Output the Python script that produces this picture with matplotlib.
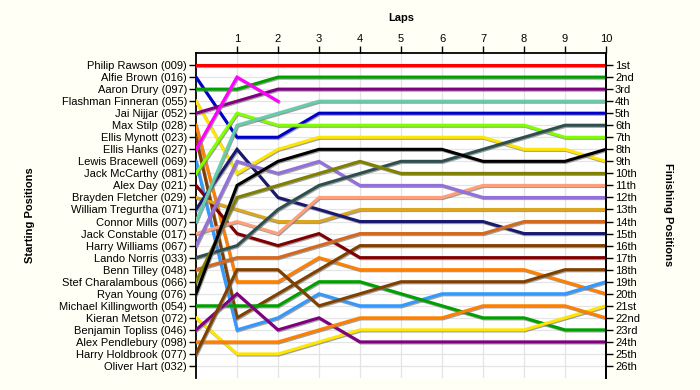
import matplotlib
matplotlib.use("Agg")
import matplotlib.pyplot as plt
import matplotlib.patheffects as pe

plt.rcParams['font.family'] = ['Liberation Sans', 'DejaVu Sans']

# starting grid, top to bottom
starters = ["Philip Rawson (009)", "Alfie Brown (016)", "Aaron Drury (097)",
            "Flashman Finneran (055)", "Jai Nijjar (052)", "Max Stilp (028)",
            "Ellis Mynott (023)", "Ellis Hanks (027)", "Lewis Bracewell (069)",
            "Jack McCarthy (081)", "Alex Day (021)", "Brayden Fletcher (029)",
            "William Tregurtha (071)", "Connor Mills (007)", "Jack Constable (017)",
            "Harry Williams (067)", "Lando Norris (033)", "Benn Tilley (048)",
            "Stef Charalambous (066)", "Ryan Young (076)", "Michael Killingworth (054)",
            "Kieran Metson (072)", "Benjamin Topliss (046)", "Alex Pendlebury (098)",
            "Harry Holdbrook (077)", "Oliver Hart (032)"]

# position at lap 0..10 for each starter (same order as above)
lap_positions = [
    [1, 1, 1, 1, 1, 1, 1, 1, 1, 1, 1],
    [2, 7, 7, 5, 5, 5, 5, 5, 5, 5, 5],
    [3, 3, 2, 2, 2, 2, 2, 2, 2, 2, 2],
    [4, 10, 8, 7, 7, 7, 7, 7, 8, 8, 9],
    [5, 4, 3, 3, 3, 3, 3, 3, 3, 3, 3],
    [6, 19, 19, 17, 18, 18, 18, 18, 18, 19, 20],
    [7, 22, 20, 18, 16, 16, 16, 16, 16, 16, 16],
    [8, 2, 4],
    [9, 23, 22, 20, 21, 21, 20, 20, 20, 20, 19],
    [10, 5, 6, 6, 6, 6, 6, 6, 6, 7, 7],
    [11, 15, 16, 15, 17, 17, 17, 17, 17, 17, 17],
    [12, 13, 14, 14, 13, 13, 13, 13, 13, 13, 13],
    [13, 8, 12, 13, 14, 14, 14, 14, 15, 15, 15],
    [14, 6, 5, 4, 4, 4, 4, 4, 4, 4, 4],
    [15, 14, 15, 12, 12, 12, 12, 11, 11, 11, 11],
    [16, 9, 10, 9, 11, 11, 11, 12, 12, 12, 12],
    [17, 16, 13, 11, 10, 9, 9, 8, 7, 6, 6],
    [18, 17, 17, 16, 15, 15, 15, 15, 14, 14, 14],
    [19, 12, 11, 10, 9, 10, 10, 10, 10, 10, 10],
    [20, 11, 9, 8, 8, 8, 8, 9, 9, 9, 8],
    [21, 21, 21, 19, 19, 20, 21, 22, 22, 23, 23],
    [22, 25, 25, 24, 23, 23, 23, 23, 23, 22, 21],
    [23, 20, 23, 22, 24, 24, 24, 24, 24, 24, 24],
    [24, 24, 24, 23, 22, 22, 22, 21, 21, 21, 22],
    [25, 18, 18, 21, 20, 19, 19, 19, 19, 18, 18],
    [],
]

finish_labels = ["1st", "2nd", "3rd"] + [f"{i}th" for i in range(4, 21)] + \
                ["21st", "22nd", "23rd", "24th", "25th", "26th"]

colors = ["#ff0000", "#0000cd", "#00a000", "#ffe600", "#800080", "#ff8000",
          "#804000", "#ff00ff", "#3399ff", "#80ff00", "#800000", "#daa520",
          "#191970", "#66cdaa", "#ffa07a", "#9370db", "#2f4f4f", "#d2691e",
          "#808000", "#000000", "#00a000", "#ffe600", "#800080", "#ff8000",
          "#804000", "#888888"]

fig = plt.figure(figsize=(7, 3.9), dpi=100, facecolor="#fffff6")
ax = fig.add_axes([196/700, 1 - 378/390, 410/700, 325/390])
ax.set_facecolor("white")

shadow = [pe.SimpleLineShadow(offset=(0.6, -0.8), shadow_color="#777777", alpha=0.7),
          pe.Normal()]
for pos, c in zip(lap_positions, colors):
    if not pos:
        continue
    ax.plot(range(len(pos)), pos, color=c, lw=2.2, solid_joinstyle="miter",
            path_effects=shadow, zorder=3)

ax.set_xlim(0, 10)
ax.set_ylim(27, 0)
ax.set_xticks(range(1, 11))
ax.xaxis.tick_top()
ax.set_yticks(range(1, 27))
ax.set_yticklabels(starters)
ax.tick_params(axis="both", labelsize=8, length=5, width=1, color="black",
               labelcolor="black", pad=1.5)
ax.grid(True, color="#e4e4e4", lw=0.9, zorder=0)
ax.set_axisbelow(True)
for s in ["top", "left", "right"]:
    ax.spines[s].set_linewidth(1.3)
ax.spines["bottom"].set_visible(False)

ax2 = ax.twinx()
ax2.set_ylim(27, 0)
ax2.set_yticks(range(1, 27))
ax2.set_yticklabels(finish_labels)
ax2.tick_params(axis="y", labelsize=8, length=5, width=1, pad=1.5)
for s in ["top", "bottom", "left"]:
    ax2.spines[s].set_visible(False)
ax2.spines["right"].set_linewidth(1.3)

fig.text(0.5 * (196 + 606) / 700, 1 - 18/390, "Laps", ha="center", va="center",
         fontsize=8, fontweight="bold")
fig.text(30/700, 1 - 215/390, "Starting Positions", ha="center", va="center",
         rotation=90, fontsize=8, fontweight="bold")
fig.text(668/700, 1 - 215/390, "Finishing Positions", ha="center", va="center",
         rotation=-90, fontsize=8, fontweight="bold")

fig.savefig("out.png", dpi=100, facecolor=fig.get_facecolor())
